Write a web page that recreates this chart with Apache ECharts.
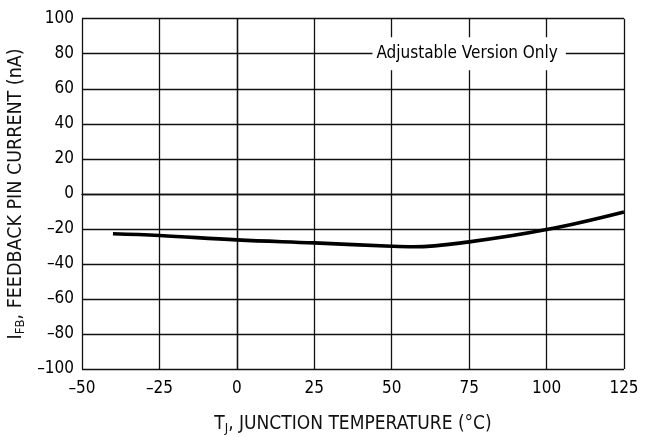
<!DOCTYPE html>
<html><head><meta charset="utf-8">
<script src="https://cdn.jsdelivr.net/npm/echarts@6/dist/echarts.min.js"></script>
<style>html,body{margin:0;padding:0;background:#fff}#c{width:653px;height:437px}</style>
</head><body><div id="c"></div>
<script>
const temps = [-40, -25, 0, 25, 50, 57, 75, 100, 125];
const ifb   = [-22.8, -23.8, -26.3, -28, -29.9, -30.2, -27.4, -20.4, -10.3];
const xTicks = [-50, -25, 0, 25, 50, 75, 100, 125];
const yTicks = [-100, -80, -60, -40, -20, 0, 20, 40, 60, 80, 100];
const note = 'Adjustable Version Only';
const notePos = [75, 80];

const FONT = '"DejaVu Sans Condensed", "Liberation Sans Narrow", "Liberation Sans", sans-serif';
const chart = echarts.init(document.getElementById('c'));
chart.setOption({
  animation: false,
  backgroundColor: '#fff',
  grid: {left: 82, right: 29, top: 18.7, bottom: 68, show: false, outerBoundsMode: 'none', containLabel: false},
  xAxis: {
    type: 'value', min: xTicks[0], max: xTicks[xTicks.length-1], interval: 25,
    name: 'T{sub|J}, JUNCTION TEMPERATURE (°C)',
    nameLocation: 'middle', nameGap: 44,
    nameTextStyle: {fontFamily: FONT, fontSize: 19, color: '#111',
      rich: {sub: {fontFamily: FONT, fontSize: 13, color: '#111', verticalAlign: 'bottom', padding: [9,0,0,0]}}},
    axisLine: {show: true, lineStyle: {color: '#111', width: 1.3}},
    axisTick: {show: false},
    axisLabel: {fontFamily: FONT, fontSize: 17, color: '#000', margin: 11,
      formatter: v => (v < 0 ? '\u2013' + Math.abs(v) : String(v))},
    splitLine: {show: true, lineStyle: {color: '#111', width: 1.3}}
  },
  yAxis: {
    type: 'value', min: yTicks[0], max: yTicks[yTicks.length-1], interval: 20,
    name: 'I{sub|FB}, FEEDBACK PIN CURRENT (nA)',
    nameLocation: 'middle', nameGap: 55, nameRotate: 90, nameMoveOverlap: false,
    nameTextStyle: {fontFamily: FONT, fontSize: 19.5, color: '#111',
      rich: {sub: {fontFamily: FONT, fontSize: 13, color: '#111', verticalAlign: 'bottom', padding: [9,0,0,0]}}},
    axisLine: {show: true, lineStyle: {color: '#111', width: 1.3}},
    axisTick: {show: false},
    axisLabel: {fontFamily: FONT, fontSize: 17, color: '#000', margin: 8,
      formatter: v => (v < 0 ? '\u2013' + Math.abs(v) : String(v))},
    splitLine: {show: true, lineStyle: {color: '#111', width: 1.3}}
  },
  series: [{
    type: 'line', data: temps.map((t, i) => [t, ifb[i]]),
    smooth: 0.4, symbol: 'none',
    lineStyle: {color: '#000', width: 3.6},
    markPoint: {
      symbol: 'rect', symbolSize: 0, silent: true,
      data: [{coord: notePos, value: note}],
      label: {show: true, position: 'inside', formatter: note,
        fontFamily: FONT, fontSize: 17, color: '#000',
        backgroundColor: '#fff', padding: [8, 8, 8, 4]}
    }
  }]
});
</script></body></html>
